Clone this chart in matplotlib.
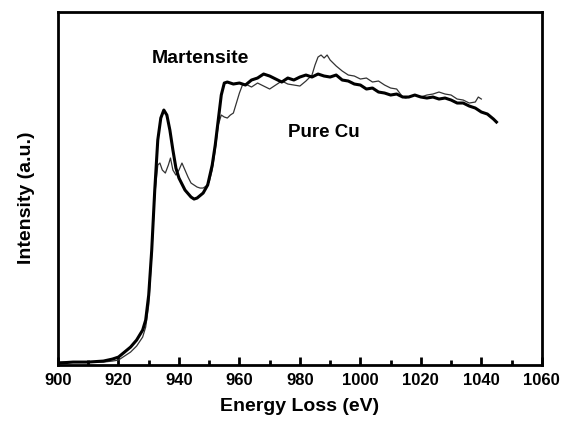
import matplotlib
matplotlib.use("Agg")
import matplotlib.pyplot as plt
from matplotlib.ticker import MultipleLocator

plt.rcParams['font.family'] = ['Liberation Sans', 'DejaVu Sans']

thick_x = [900, 905, 910, 915, 918, 920, 922, 924, 926, 928, 929, 930, 931, 932, 933, 934, 935, 936, 937, 938,
           939, 940, 942, 944, 945, 946, 948, 949.5, 951, 952, 953, 954, 955, 956, 958, 960, 962, 964, 966, 968,
           970, 972, 974, 976, 978, 980, 982, 984, 986, 988, 990, 992, 994, 996, 998, 1000, 1002, 1004, 1006,
           1008, 1010, 1012, 1014, 1016, 1018, 1020, 1022, 1024, 1026, 1028, 1030, 1032, 1034, 1036, 1038,
           1040, 1042, 1044, 1045]
thick_y = [2, 3, 3, 4, 6, 8, 13, 18, 25, 35, 45, 70, 115, 175, 225, 247, 255, 250, 235, 215,
           197, 187, 175, 168, 166, 167, 172, 180, 200, 220, 245, 270, 282, 283, 281, 282, 280, 285, 287, 291,
           289, 286, 283, 287, 285, 288, 290, 288, 291, 289, 288, 290, 285, 284, 281, 280, 276, 277, 273,
           272, 270, 271, 268, 268, 270, 268, 267, 268, 266, 267, 265, 262, 262, 259, 257,
           253, 251, 246, 243]

thin_x = [900, 910, 915, 918, 920, 922, 924, 926, 928, 929, 930, 931, 932, 933, 933.7, 934.5, 935.5, 936.5,
          937.2, 938, 939, 940, 941, 942, 943, 944, 945, 946, 947, 948, 949, 950, 951, 952, 953, 954, 955,
          956, 957, 958, 959, 960, 961, 962, 964, 966, 968, 970, 972, 974, 976, 978, 980, 982, 984, 985,
          986, 987, 988, 989, 990, 991, 992, 994, 996, 998, 1000, 1002, 1004, 1006, 1008, 1010, 1012,
          1013, 1014, 1015, 1016, 1018, 1020, 1022, 1024, 1026, 1028, 1030, 1032, 1034, 1036, 1038,
          1039, 1040]
thin_y = [3, 3, 3, 4, 5, 9, 13, 19, 28, 38, 60, 110, 170, 200, 202, 195, 192, 200,
          207, 195, 190, 195, 202, 195, 188, 182, 180, 178, 177, 177, 179, 183, 195, 215, 240, 250, 248,
          247, 250, 252, 262, 272, 280, 281, 278, 282, 279, 276, 280, 284, 281, 280, 279, 284, 290, 300,
          308, 310, 307, 310, 305, 302, 299, 294, 290, 289, 286, 287, 283, 284, 280, 277, 276,
          272, 268, 267, 268, 270, 268, 270, 271, 273, 271, 270, 266, 265, 262, 263,
          268, 266]

labels = ["Martensite", "Pure Cu"]
xticks = [900, 920, 940, 960, 980, 1000, 1020, 1040, 1060]

fig = plt.figure(figsize=(5.77, 4.29), dpi=100)
ax = fig.add_axes([0.1005, 0.149, 0.8385, 0.823])

ax.plot(thin_x, thin_y, color='#333333', lw=0.9)
ax.plot(thick_x, thick_y, color='black', lw=2.2)

ax.set_xlim(900, 1060)
ax.set_ylim(0, 353)
ax.set_xticks(xticks)
ax.set_xticklabels([str(t) for t in xticks], fontweight='bold', fontsize=12)
ax.xaxis.set_minor_locator(MultipleLocator(10))
ax.tick_params(axis='x', which='major', direction='in', length=6, width=2, pad=6)
ax.tick_params(axis='x', which='minor', direction='in', length=3.5, width=2)
ax.set_yticks([])
for s in ax.spines.values():
    s.set_linewidth(2)

ax.set_xlabel("Energy Loss (eV)", fontweight='bold', fontsize=14, labelpad=7)
ax.set_ylabel("Intensity (a.u.)", fontweight='bold', fontsize=14)
ax.yaxis.set_label_coords(-0.048, 0.473)

ax.text(947, 307, labels[0], fontweight='bold', fontsize=14, ha='center', va='center')
ax.text(988, 233, labels[1], fontweight='bold', fontsize=13.5, ha='center', va='center')

fig.savefig("out.png", dpi=100)
